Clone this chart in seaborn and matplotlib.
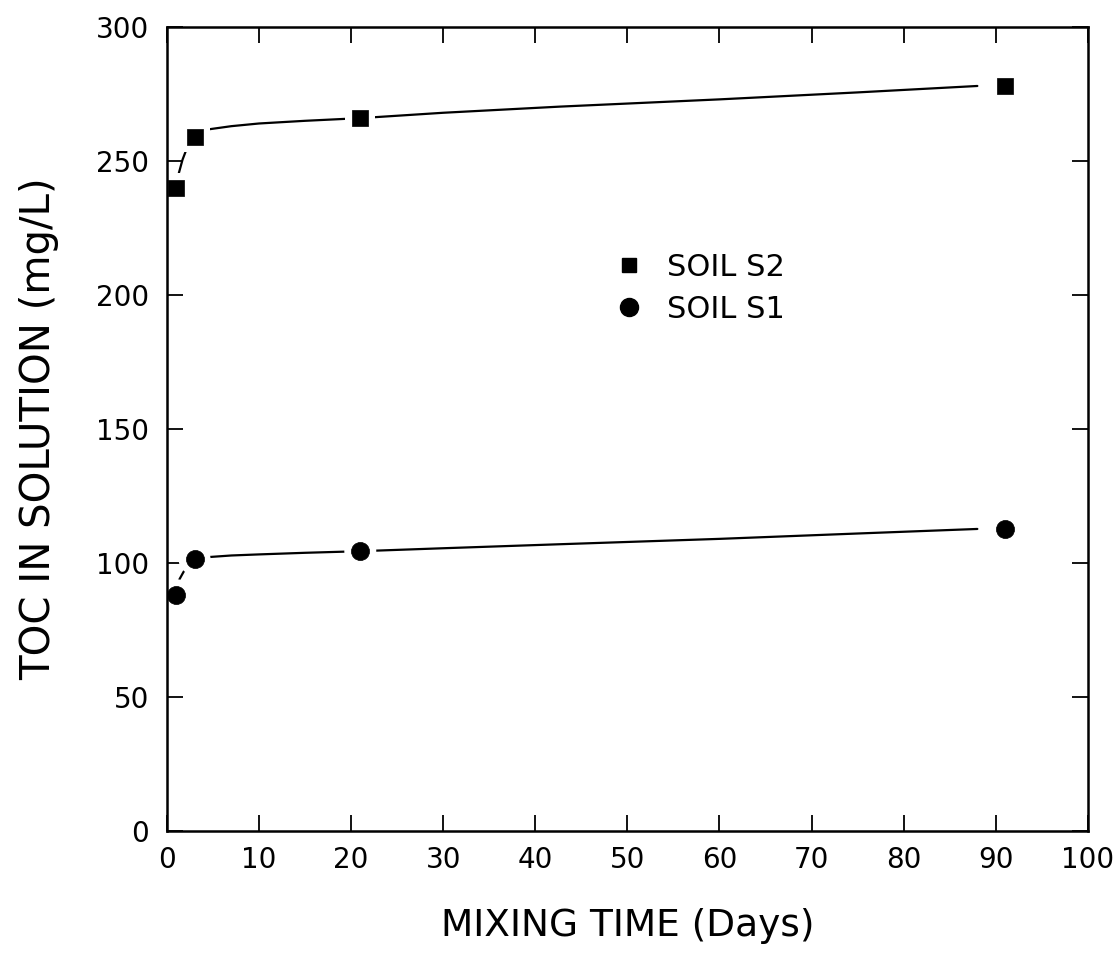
import numpy as np
import pandas as pd
import matplotlib
matplotlib.use("Agg")
import matplotlib.pyplot as plt
import seaborn as sns
from matplotlib.lines import Line2D

# ---- data ----
days = [1, 3, 21, 91]
soil_s2 = [240, 259, 266, 278]
soil_s1 = [88, 101.5, 104.5, 112.5]

# fitted curves as drawn in the reference
curve_x = [1, 1.3, 1.7, 2.2, 3, 4.5, 7, 10, 15, 21, 30, 42.7, 60, 75, 88]
curve_s2 = [240, 245.5, 250.5, 255, 259, 261.8, 263, 264, 265, 266, 268, 270.3, 273, 275.6, 278]
curve_s1 = [88, 93.5, 96, 99, 101.5, 102.2, 102.8, 103.2, 103.8, 104.4, 105.5, 107, 109, 111, 112.7]

xticks = [0, 10, 20, 30, 40, 50, 60, 70, 80, 90, 100]
yticks = [0, 50, 100, 150, 200, 250, 300]
series_labels = ["SOIL S2", "SOIL S1"]

sns.set_theme(style="ticks")
plt.rcParams["font.family"] = ["DejaVu Sans"]

fig = plt.figure(figsize=(11.2, 9.58), dpi=100)
ax = fig.add_axes([0.149, 0.1326, 0.8223, 0.8392])

pts = pd.DataFrame({"days": days * 2,
                    "toc": soil_s2 + soil_s1,
                    "soil": ["S2"] * 4 + ["S1"] * 4})
cur = pd.DataFrame({"days": curve_x * 2,
                    "toc": curve_s2 + curve_s1,
                    "soil": ["S2"] * len(curve_x) + ["S1"] * len(curve_x)})

for s in ["S2", "S1"]:
    sns.lineplot(data=cur[cur.soil == s], x="days", y="toc", color="black",
                 linewidth=1.6, ax=ax, zorder=2, sort=True, estimator=None)

mk = {"S2": "s", "S1": "o"}
big = {"S2": 470, "S1": 530}
small = {"S2": 140, "S1": 170}
for s in ["S2", "S1"]:
    d = pts[pts.soil == s]
    sns.scatterplot(data=d, x="days", y="toc", marker=mk[s], s=big[s],
                    color="white", edgecolor="none", ax=ax, zorder=3, legend=False)
    sns.scatterplot(data=d, x="days", y="toc", marker=mk[s], s=small[s],
                    color="black", edgecolor="black", linewidth=0.5, ax=ax, zorder=4,
                    legend=False)

ax.set_xlim(0, 100)
ax.set_ylim(0, 300)
ax.set_xticks(xticks)
ax.set_yticks(yticks)
ax.set_xticklabels([str(v) for v in xticks])
ax.set_yticklabels([str(v) for v in yticks])
ax.tick_params(direction="in", length=11.5, width=1.3, top=True, right=True,
               labelsize=20, pad=11, color="black", labelcolor="black")
ax.tick_params(axis="y", pad=13)
for sp in ax.spines.values():
    sp.set_visible(True)
    sp.set_linewidth(1.8)
    sp.set_color("black")
    sp.set_zorder(5)

ax.set_xlabel("MIXING TIME (Days)", fontsize=27, labelpad=24, color="black")
ax.set_ylabel("TOC IN SOLUTION (mg/L)", fontsize=29, labelpad=26, color="black")

handles = [Line2D([], [], marker="s", linestyle="none", color="black", markersize=10),
           Line2D([], [], marker="o", linestyle="none", color="black", markersize=13)]
ax.legend(handles, series_labels, loc="upper left", bbox_to_anchor=(0.472, 0.734),
          frameon=False, fontsize=22, handlelength=1.0, handletextpad=0.75,
          labelspacing=0.42, borderaxespad=0, labelcolor="black")

fig.savefig("out.png", dpi=100, facecolor="white")
